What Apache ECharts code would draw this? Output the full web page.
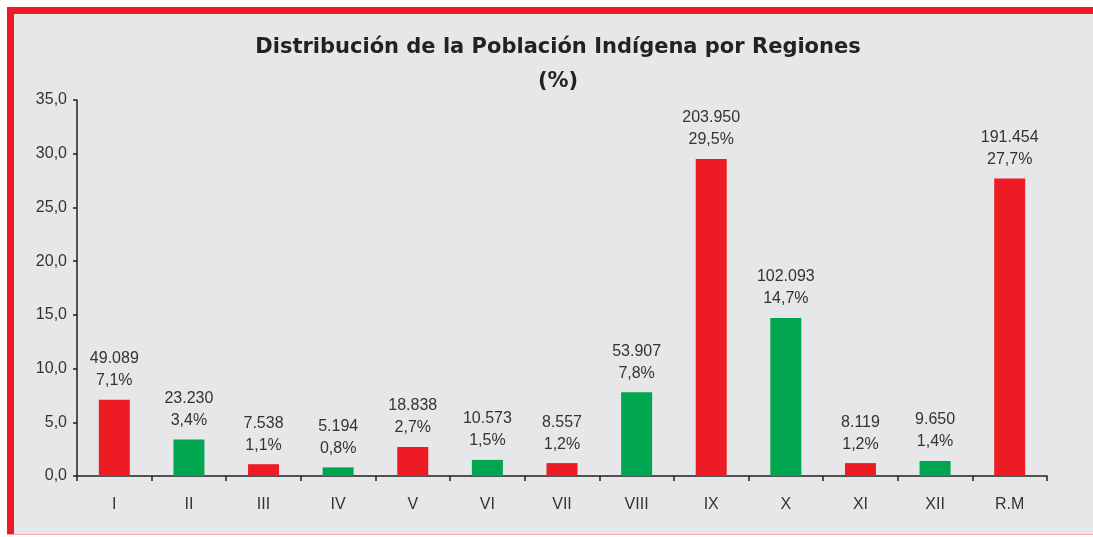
<!DOCTYPE html>
<html><head><meta charset="utf-8">
<script src="https://cdn.jsdelivr.net/npm/echarts@6/dist/echarts.min.js"></script>
<style>html,body{margin:0;padding:0;background:#fff;}#c{width:1093px;height:537px;}</style>
</head><body><div id="c"></div>
<script>
const categories = ['I','II','III','IV','V','VI','VII','VIII','IX','X','XI','XII','R.M'];
const percentages = [7.1, 3.4, 1.1, 0.8, 2.7, 1.5, 1.2, 7.8, 29.5, 14.7, 1.2, 1.4, 27.7];
const population = [49089, 23230, 7538, 5194, 18838, 10573, 8557, 53907, 203950, 102093, 8119, 9650, 191454];
const barColors = ['#ED1C24','#00A650','#ED1C24','#00A650','#ED1C24','#00A650','#ED1C24','#00A650','#ED1C24','#00A650','#ED1C24','#00A650','#ED1C24'];
const yTicks = [0, 5, 10, 15, 20, 25, 30, 35];

const fmtThousands = n => String(n).replace(/\B(?=(\d{3})+(?!\d))/g, '.');
const fmtDec = v => v.toFixed(1).replace('.', ',');

const chart = echarts.init(document.getElementById('c'), null, {renderer:'canvas'});
chart.setOption({
  animation: false,
  backgroundColor: '#ffffff',
  textStyle: {fontFamily: 'Liberation Sans, Arial, sans-serif'},
  graphic: [
    {type:'rect', z:-10, silent:true, shape:{x:7,y:7,width:1086,height:528}, style:{fill:'#E6E7E8'}},
    {type:'rect', z:-9, silent:true, shape:{x:7,y:7,width:1086,height:7}, style:{fill:'#ED1C24'}},
    {type:'rect', z:-9, silent:true, shape:{x:7,y:7,width:7,height:528}, style:{fill:'#ED1C24'}},
    {type:'rect', z:-9, silent:true, shape:{x:7,y:534,width:1086,height:1}, style:{fill:'#F4A6A9'}}
  ],
  title: {
    text: 'Distribución de la Población Indígena por Regiones\n(%)',
    left: 553,
    textAlign: 'center',
    top: 26,
    textStyle: {fontFamily:'DejaVu Sans', fontWeight:'bold', fontSize:21, color:'#222', lineHeight:34}
  },
  grid: {left:77, right:46, top:100, bottom:61, containLabel:false},
  xAxis: {
    type:'category',
    data: categories,
    axisLine: {lineStyle:{color:'#222', width:1.5}},
    axisTick: {show:true, length:5, lineStyle:{color:'#222', width:1.5}, alignWithLabel:false},
    axisLabel: {color:'#333', fontSize:16, margin:21, fontFamily:'Liberation Sans'}
  },
  yAxis: {
    type:'value',
    min: yTicks[0], max: yTicks[yTicks.length-1], interval: 5,
    splitLine: {show:false},
    axisLine: {show:true, lineStyle:{color:'#222', width:1.5}},
    axisTick: {show:true, length:4, lineStyle:{color:'#222', width:1.5}},
    axisLabel: {color:'#333', fontSize:16, margin:10, formatter: v => fmtDec(v)}
  },
  series: [{
    type:'bar',
    barWidth: 31,
    data: percentages.map((v,i) => ({value:v, itemStyle:{color:barColors[i]}})),
    label: {
      show:true,
      position:'top',
      distance: 8,
      color:'#333',
      fontSize:16,
      lineHeight:22,
      fontFamily:'Liberation Sans',
      formatter: p => fmtThousands(population[p.dataIndex]) + '\n' + fmtDec(percentages[p.dataIndex]) + '%'
    }
  }]
});
</script></body></html>
